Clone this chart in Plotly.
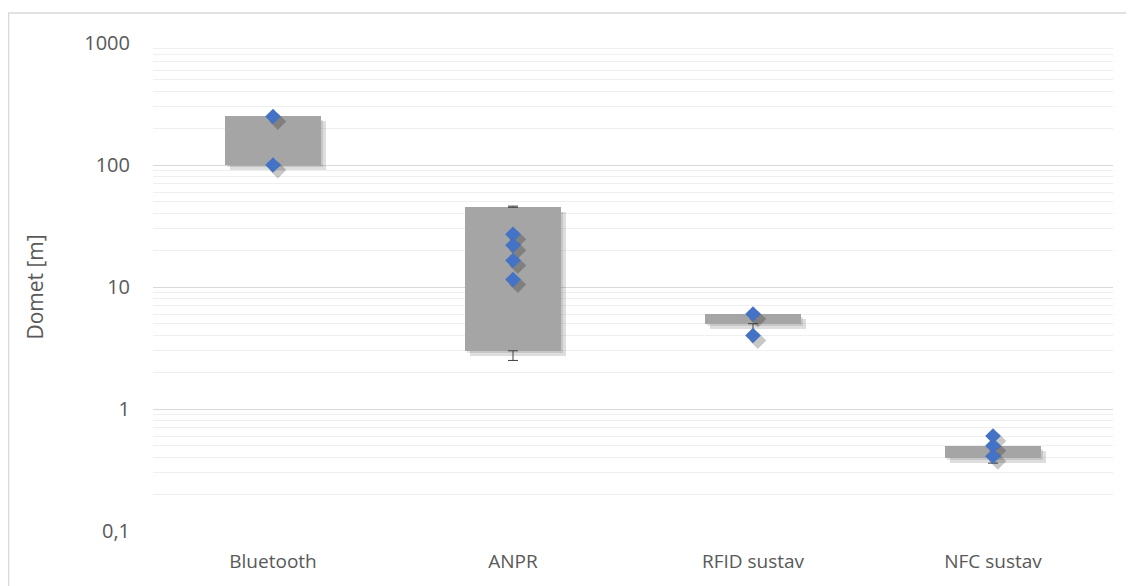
import plotly.graph_objects as go

categories = ["Bluetooth", "ANPR", "RFID sustav", "NFC sustav"]
box_low = [100, 3, 5, 0.4]
box_high = [250, 45, 6, 0.5]
whisker_low = [100, 2.5, 4, 0.36]
whisker_high = [250, 46, 6, 0.5]
point_cat = [0, 0, 1, 1, 1, 1, 2, 2, 3, 3, 3]
point_val = [250, 100, 27, 22, 16.5, 11.5, 6, 4, 0.6, 0.5, 0.41]
y_tickvals = [0.1, 1, 10, 100, 1000]
y_ticktext = ["0,1", "1", "10", "100", "1000"]

xs = list(range(len(categories)))
BAR_W = 0.4
SH_DX = 0.02      # shadow shift in category units
SH_FY = 0.91      # shadow shift as factor on log axis

fig = go.Figure()

# soft shadows of boxes (two layers)
fig.add_trace(go.Bar(
    x=[x + SH_DX for x in xs], y=[(h - l) * SH_FY for l, h in zip(box_low, box_high)],
    base=[l * SH_FY for l in box_low], width=BAR_W,
    marker=dict(color="rgba(0,0,0,0.13)", line=dict(width=0)),
    hoverinfo="skip", showlegend=False))
fig.add_trace(go.Bar(
    x=[x + SH_DX * 0.5 for x in xs], y=[(h - l) * SH_FY for l, h in zip(box_low, box_high)],
    base=[l * (1 + SH_FY) / 2 for l in box_low], width=BAR_W,
    marker=dict(color="rgba(0,0,0,0.10)", line=dict(width=0)),
    hoverinfo="skip", showlegend=False))

# boxes
fig.add_trace(go.Bar(
    x=xs, y=[h - l for l, h in zip(box_low, box_high)], base=box_low, width=BAR_W,
    marker=dict(color="#A5A5A5", line=dict(width=0)), showlegend=False))

# whiskers
err_style = dict(color="#404040", thickness=1, width=5)
fig.add_trace(go.Scatter(
    x=xs, y=box_low, mode="markers", marker=dict(size=0.1, opacity=0),
    error_y=dict(type="data", symmetric=False,
                 array=[0] * len(xs),
                 arrayminus=[l - w for l, w in zip(box_low, whisker_low)], **err_style),
    hoverinfo="skip", showlegend=False))
fig.add_trace(go.Scatter(
    x=xs, y=box_high, mode="markers", marker=dict(size=0.1, opacity=0),
    error_y=dict(type="data", symmetric=False,
                 array=[w - h for h, w in zip(box_high, whisker_high)],
                 arrayminus=[0] * len(xs), **err_style),
    hoverinfo="skip", showlegend=False))

# marker shadows
fig.add_trace(go.Scatter(
    x=[c + SH_DX for c in point_cat], y=[v * SH_FY for v in point_val], mode="markers",
    marker=dict(symbol="diamond", size=13, color="rgba(0,0,0,0.22)"),
    hoverinfo="skip", showlegend=False))

# points
fig.add_trace(go.Scatter(
    x=point_cat, y=point_val, mode="markers",
    marker=dict(symbol="diamond", size=12, color="#4472C4", line=dict(width=0)),
    showlegend=False))

font_family = "Open Sans, Liberation Sans, sans-serif"

# the page adds an 8px body margin, so the figure is 8px smaller
W, H = 1126, 578
L, R, T, B = 145, 21, 35, 55
plot_w = W - L - R
plot_h = H - T - B

fig.update_layout(
    width=W, height=H,
    margin=dict(l=L, r=R, t=T, b=B),
    paper_bgcolor="white", plot_bgcolor="white",
    barmode="overlay", bargap=0,
    font=dict(family=font_family, size=20, color="#595959"),
    xaxis=dict(range=[-0.5, len(categories) - 0.5], tickvals=xs, ticktext=categories,
               showgrid=False, zeroline=False, showline=False, ticks="",
               tickfont=dict(size=19, color="#595959"), ticklabelstandoff=17),
    yaxis=dict(type="log", range=[-1, 3], tickvals=y_tickvals, ticktext=y_ticktext,
               showgrid=True, gridcolor="#D9D9D9", gridwidth=1,
               minor=dict(dtick="D1", showgrid=True, gridcolor="#EFEFEF", gridwidth=1, ticks=""),
               zeroline=False, showline=False, ticks="",
               tickfont=dict(size=20, color="#595959"), ticklabelstandoff=22,
               title=dict(text="Domet [m]", font=dict(size=21, color="#595959"), standoff=34)),
    shapes=[dict(type="rect", xref="paper", yref="paper",
                 x0=(0.5 - L) / plot_w, x1=(W - 0.5 - L) / plot_w,
                 y0=-0.3, y1=(plot_h + T - 5) / plot_h,
                 line=dict(color="#D9D9D9", width=1.5), fillcolor="rgba(0,0,0,0)", layer="below")],
)

fig.write_html("out.html")
